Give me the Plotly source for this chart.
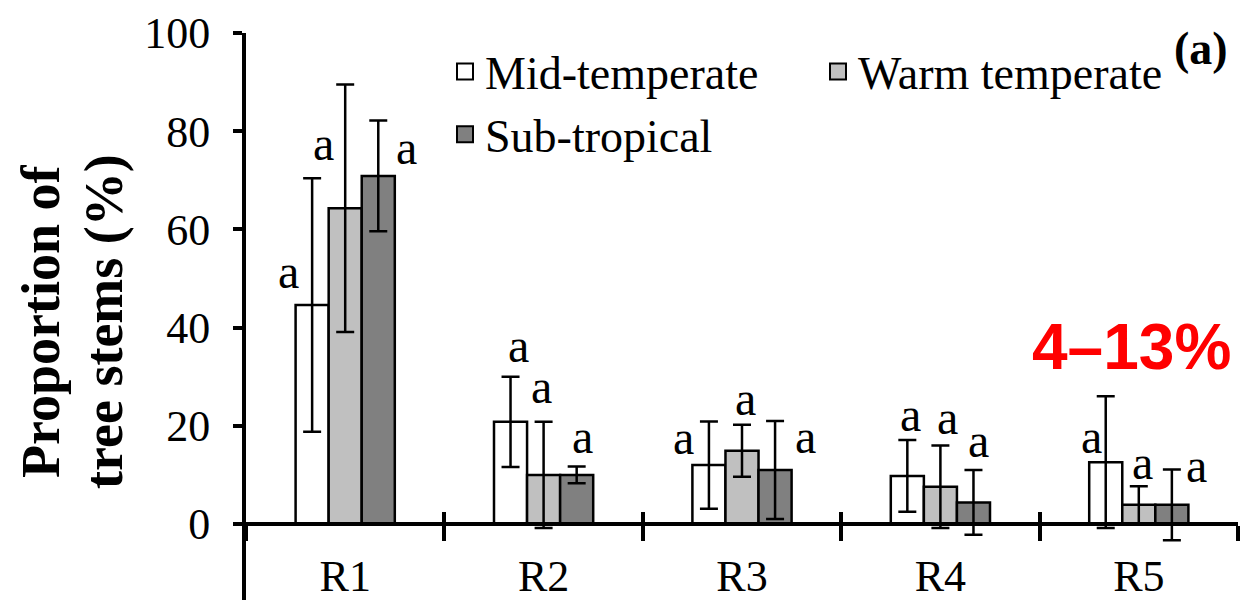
import plotly.graph_objects as go

# ---------------- data ----------------
regions = ["R1", "R2", "R3", "R4", "R5"]
series_names = ["Mid-temperate", "Warm temperate", "Sub-tropical"]

mid_temperate = [44.6, 20.8, 12.0, 9.8, 12.6]
mid_temperate_err = [25.8, 9.2, 8.9, 7.3, 13.4]
warm_temperate = [64.3, 10.0, 14.9, 7.6, 3.9]
warm_temperate_err = [25.2, 10.8, 5.3, 8.4, 3.8]
sub_tropical = [70.9, 10.0, 11.0, 4.4, 3.9]
sub_tropical_err = [11.3, 1.7, 10.0, 6.6, 7.2]

# significance letters (rows = series, columns = regions)
letters_mid = ["a", "a", "a", "a", "a"]
letters_warm = ["a", "a", "a", "a", "a"]
letters_sub = ["a", "a", "a", "a", "a"]

y_ticks = [0, 20, 40, 60, 80, 100]
panel_label = "(a)"
highlight_text = "4–13%"
y_title_lines = ["Proportion of", "tree stems (%)"]

# ---------------- style ----------------
W, H = 1240, 600
ML, MR, MT, MB = 246, 2, 33, 0
Y_MIN, Y_MAX = -15.48, 100
SERIF = "Liberation Serif, Times New Roman, serif"
colors = ["#FFFFFF", "#C0C0C0", "#808080"]
BARGAP = 0.5

# label pixel offsets relative to error-bar top (dx right, dy down)
label_offsets = [
    [(-24, 99), (8, -25), (-25, 22), (3, -20), (-14, 46)],
    [(-22, 65), (-2, -29), (3, -20), (7, -22), (4, -18)],
    [(28, 33), (6, -24), (30, 22), (5, -23), (25, 2)],
]

values = [mid_temperate, warm_temperate, sub_tropical]
errors = [mid_temperate_err, warm_temperate_err, sub_tropical_err]
letters = [letters_mid, letters_warm, letters_sub]

fig = go.Figure()
for name, vals, errs, col in zip(series_names, values, errors, colors):
    fig.add_trace(go.Bar(
        name=name, x=regions, y=vals, showlegend=False,
        marker=dict(color=col, line=dict(color="black", width=2.5)),
        error_y=dict(type="data", array=errs, visible=True,
                     color="black", thickness=2.5, width=9),
    ))
# legend entries (larger square swatches)
for name, col in zip(series_names, colors):
    fig.add_trace(go.Scatter(
        name=name, x=[None], y=[None], mode="markers", showlegend=True,
        marker=dict(symbol="square", size=16, color=col, line=dict(color="black", width=2)),
        hoverinfo="skip",
    ))

plot_w = W - ML - MR
cat_px = plot_w / len(regions)
bar_px = cat_px * (1 - BARGAP) / len(series_names)

annotations = []
for si in range(len(series_names)):
    bar_off = (si - (len(series_names) - 1) / 2) * bar_px
    for ri, reg in enumerate(regions):
        dx, dy = label_offsets[si][ri]
        annotations.append(dict(
            x=reg, y=values[si][ri] + errors[si][ri], xref="x", yref="y",
            text=letters[si][ri], showarrow=False,
            xanchor="center", yanchor="middle",
            xshift=bar_off + dx, yshift=-dy + 6,
            font=dict(family=SERIF, size=48, color="black"),
        ))

plot_h = H - MT - MB
def px_to_paper_x(px):
    return (px - ML) / plot_w
def px_to_paper_y(py):
    return (H - MB - py) / plot_h

# y-axis title (two lines)
for txt, xc in zip(y_title_lines, [41, 104]):
    annotations.append(dict(
        x=px_to_paper_x(xc), y=px_to_paper_y(322), xref="paper", yref="paper",
        text=f"<b>{txt}</b>", showarrow=False, textangle=-90,
        xanchor="center", yanchor="middle",
        font=dict(family=SERIF, size=54, color="black"),
    ))

annotations.append(dict(
    x=px_to_paper_x(1230), y=px_to_paper_y(48), xref="paper", yref="paper",
    text=f"<b>{panel_label}</b>", showarrow=False, xanchor="right", yanchor="middle",
    font=dict(family=SERIF, size=46, color="black"),
))
annotations.append(dict(
    x=px_to_paper_x(1131), y=px_to_paper_y(347), xref="paper", yref="paper",
    text=f"<b>{highlight_text}</b>", showarrow=False, xanchor="center", yanchor="middle",
    font=dict(family="Liberation Sans, Arial, sans-serif", size=64, color="#FF0000"),
))

zero_pos = (0 - Y_MIN) / (Y_MAX - Y_MIN)
n = len(regions)
boundaries = [i + 0.5 for i in range(n)]

fig.update_layout(
    width=W, height=H,
    margin=dict(l=ML, r=MR, t=MT, b=MB, pad=0),
    paper_bgcolor="white", plot_bgcolor="white",
    barmode="group", bargap=BARGAP, bargroupgap=0,
    font=dict(family=SERIF, color="black"),
    showlegend=True,
    legend=dict(
        orientation="h", x=px_to_paper_x(445), y=px_to_paper_y(35),
        xanchor="left", yanchor="top", itemsizing="trace",
        font=dict(family=SERIF, size=46, color="black"),
        entrywidth=328, entrywidthmode="pixels",
        bgcolor="rgba(0,0,0,0)", traceorder="normal",
    ),
    xaxis=dict(
        type="category", range=[-0.5, n - 0.5],
        anchor="free", position=zero_pos,
        showline=True, linecolor="black", linewidth=4,
        ticks="outside", tickson="boundaries", ticklen=15, tickwidth=4, tickcolor="black",
        tickfont=dict(family=SERIF, size=44, color="black"),
        ticklabelstandoff=12,
        showgrid=False, zeroline=False, layer="above traces",
    ),
    xaxis2=dict(
        overlaying="x", anchor="free", position=zero_pos,
        range=[-0.5, n - 0.5], tickvals=boundaries,
        ticks="inside", ticklen=12, tickwidth=4, tickcolor="black",
        showticklabels=False, showline=False, showgrid=False, zeroline=False,
        layer="above traces",
    ),
    yaxis=dict(
        range=[Y_MIN, Y_MAX], tickvals=y_ticks,
        showline=True, linecolor="black", linewidth=4,
        ticks="outside", ticklen=9, tickwidth=4, tickcolor="black",
        tickfont=dict(family=SERIF, size=44, color="black"),
        ticklabelstandoff=14,
        showgrid=False, zeroline=False, layer="above traces",
    ),
    annotations=annotations,
)

# invisible trace so the second x axis is rendered
fig.add_trace(go.Scatter(x=[None], y=[None], xaxis="x2", showlegend=False, hoverinfo="skip"))

fig.write_html("out.html")
